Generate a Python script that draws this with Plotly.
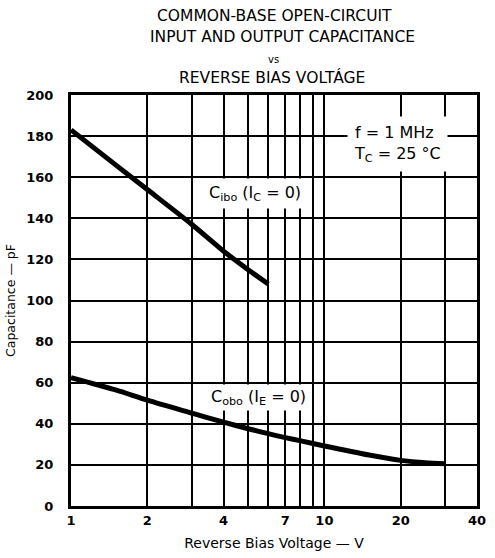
import plotly.graph_objects as go

# Reverse bias voltage (V) and capacitance (pF)
v_cibo = [1, 1.5, 2, 3, 4, 5, 6]
c_cibo = [183, 166, 154, 137, 124, 115, 108]

v_cobo = [1, 1.5, 2, 3, 4, 5, 6, 7, 8, 10, 15, 20, 25, 30]
c_cobo = [62.5, 56.5, 51.5, 45.2, 40.8, 37.6, 35.2, 33.3, 31.8, 29.2, 24.8, 22.2, 21.0, 20.5]

x_ticks = [1, 2, 4, 7, 10, 20, 40]
x_minor_grid = [3, 5, 6, 8, 9, 30]
y_ticks = [0, 20, 40, 60, 80, 100, 120, 140, 160, 180, 200]

FONT = "DejaVu Sans"

fig = go.Figure()
for vx, cy in [(v_cibo, c_cibo), (v_cobo, c_cobo)]:
    fig.add_trace(go.Scatter(
        x=vx, y=cy, mode="lines", line=dict(color="black", width=5, shape="spline", smoothing=0.8),
        showlegend=False, hoverinfo="skip"))

fig.update_layout(
    width=495, height=558,
    margin=dict(l=71, r=9, t=95, b=52),
    paper_bgcolor="white", plot_bgcolor="white",
    font=dict(family=FONT, color="black"),
    xaxis=dict(
        type="log", range=[0, 1.60206], tickvals=x_ticks, ticktext=[str(v) for v in x_ticks],
        showgrid=True, gridcolor="black", gridwidth=2, ticks="",
        minor=dict(tickvals=x_minor_grid, showgrid=True, gridcolor="black", gridwidth=2, ticks=""),
        showline=True, linecolor="black", linewidth=3, mirror=True, zeroline=False,
        tickfont=dict(family=FONT, size=13, color="black", weight="bold"),
        title=dict(text="Reverse Bias Voltage — V", font=dict(family=FONT, size=14), standoff=12),
    ),
    yaxis=dict(
        range=[0, 200], tickvals=y_ticks,
        showgrid=True, gridcolor="black", gridwidth=2, ticks="",
        showline=True, linecolor="black", linewidth=3, mirror=True, zeroline=False,
        tickfont=dict(family=FONT, size=13, color="black", weight="bold"),
        ticklabelstandoff=12,
        title=dict(text="Capacitance — pF", font=dict(family=FONT, size=12.5), standoff=8),
    ),
)

# Four-line heading above the grid: (text, centre x px, centre y px, size)
heading = [
    ("COMMON-BASE OPEN-CIRCUIT", 279, 16, 15.5),
    ("INPUT AND OUTPUT CAPACITANCE", 287, 37, 15.5),
    ("vs", 278, 59, 10),
    ("REVERSE BIAS VOLTÁGE", 276, 77, 15.5),
]
for text, px, py, size in heading:
    fig.add_annotation(
        text=text, xref="paper", yref="paper", x=(px - 71) / 415, y=(506 - py) / 411,
        showarrow=False, xanchor="center", yanchor="middle",
        font=dict(family=FONT, size=size))

# Curve labels on white patches over the grid
fig.add_annotation(
    text="C<sub>ibo</sub> (I<sub>C</sub> = 0)", xref="paper", yref="paper",
    x=(259 - 71) / 415, y=(506 - 193) / 411, showarrow=False,
    xanchor="center", yanchor="middle",
    bgcolor="white", borderpad=4, font=dict(family=FONT, size=16))
fig.add_annotation(
    text="C<sub>obo</sub> (I<sub>E</sub> = 0)", xref="paper", yref="paper",
    x=(263 - 71) / 415, y=(506 - 397) / 411, showarrow=False,
    xanchor="center", yanchor="middle",
    bgcolor="white", borderpad=2, font=dict(family=FONT, size=16))

# Test conditions
fig.add_annotation(
    text="f = 1 MHz<br>T<sub>C</sub> = 25 °C", xref="paper", yref="paper",
    x=(405 - 71) / 415, y=(506 - 144) / 411, showarrow=False, align="left",
    xanchor="center", yanchor="middle",
    bgcolor="white", borderpad=6, font=dict(family=FONT, size=16))

fig.write_html("out.html")
